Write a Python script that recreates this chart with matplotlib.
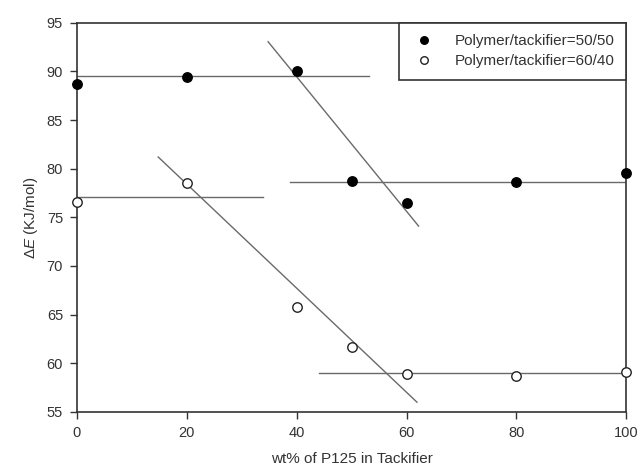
import matplotlib
matplotlib.use("Agg")
import matplotlib.pyplot as plt

plt.rcParams['font.family'] = ['Liberation Sans', 'DejaVu Sans']
plt.rcParams['mathtext.fontset'] = 'custom'
plt.rcParams['mathtext.rm'] = 'Liberation Sans'
plt.rcParams['mathtext.it'] = 'Liberation Sans:italic'

# measured activation energies
wt_p125 = [0, 20, 40, 50, 60, 80, 100]
de_50_50 = [88.7, 89.45, 90.0, 78.7, 76.5, 78.65, 79.55]
de_60_40 = [76.6, 78.5, 65.8, 61.7, 58.85, 58.7, 59.1]

# regression segments (x ends, y ends)
fit_50_a_x, fit_50_a_y = [0, 53.2], [89.5, 89.5]
fit_50_b_x, fit_50_b_y = [34.8, 62.2], [93.05, 74.1]
fit_50_c_x, fit_50_c_y = [38.8, 100], [78.6, 78.6]
fit_60_a_x, fit_60_a_y = [0, 33.9], [77.1, 77.1]
fit_60_b_x, fit_60_b_y = [14.8, 61.9], [81.2, 56.0]
fit_60_c_x, fit_60_c_y = [44.1, 100], [59.0, 59.0]

x_ticks = [0, 20, 40, 60, 80, 100]
y_ticks = [55, 60, 65, 70, 75, 80, 85, 90, 95]

fig = plt.figure(figsize=(6.41, 4.74), dpi=100)
ax = fig.add_axes([0.120, 0.131, 0.857, 0.821])

line_kw = dict(color='#6a6a6a', lw=1.0, zorder=2)
for xs, ys in [(fit_50_a_x, fit_50_a_y), (fit_50_b_x, fit_50_b_y),
               (fit_50_c_x, fit_50_c_y), (fit_60_a_x, fit_60_a_y),
               (fit_60_b_x, fit_60_b_y), (fit_60_c_x, fit_60_c_y)]:
    ax.plot(xs, ys, **line_kw)

ax.plot(wt_p125, de_50_50, 'o', ms=6.8, mfc='black', mec='black',
        mew=1.0, ls='none', clip_on=False, zorder=4,
        label='Polymer/tackifier=50/50')
ax.plot(wt_p125, de_60_40, 'o', ms=6.8, mfc='white', mec='#222222',
        mew=1.0, ls='none', clip_on=False, zorder=4,
        label='Polymer/tackifier=60/40')

ax.set_xlim(0, 100)
ax.set_ylim(55, 95)
ax.set_xticks(x_ticks)
ax.set_yticks(y_ticks)
ax.tick_params(direction='out', length=5, width=1, color='#333333',
               labelsize=10.5, labelcolor='#333333', pad=5)
ax.tick_params(axis='x', pad=5)

for side in ['left', 'right', 'top', 'bottom']:
    ax.spines[side].set_color('#333333')
    ax.spines[side].set_linewidth(1.2)

ax.set_xlabel('wt% of P125 in Tackifier', fontsize=11, color='#333333',
              labelpad=9)
ax.set_ylabel(r'$\mathit{\Delta E}$ (KJ/mol)', fontsize=11,
              color='#333333', labelpad=5)

leg = ax.legend(loc='upper right', borderaxespad=0, fancybox=False,
                framealpha=1, edgecolor='#333333', fontsize=11,
                handletextpad=1.1, borderpad=0.75, labelspacing=0.4,
                markerscale=0.8, handlelength=1.8)
leg.get_frame().set_linewidth(1.2)
for t in leg.get_texts():
    t.set_color('#333333')

fig.savefig('out.png', dpi=100)
